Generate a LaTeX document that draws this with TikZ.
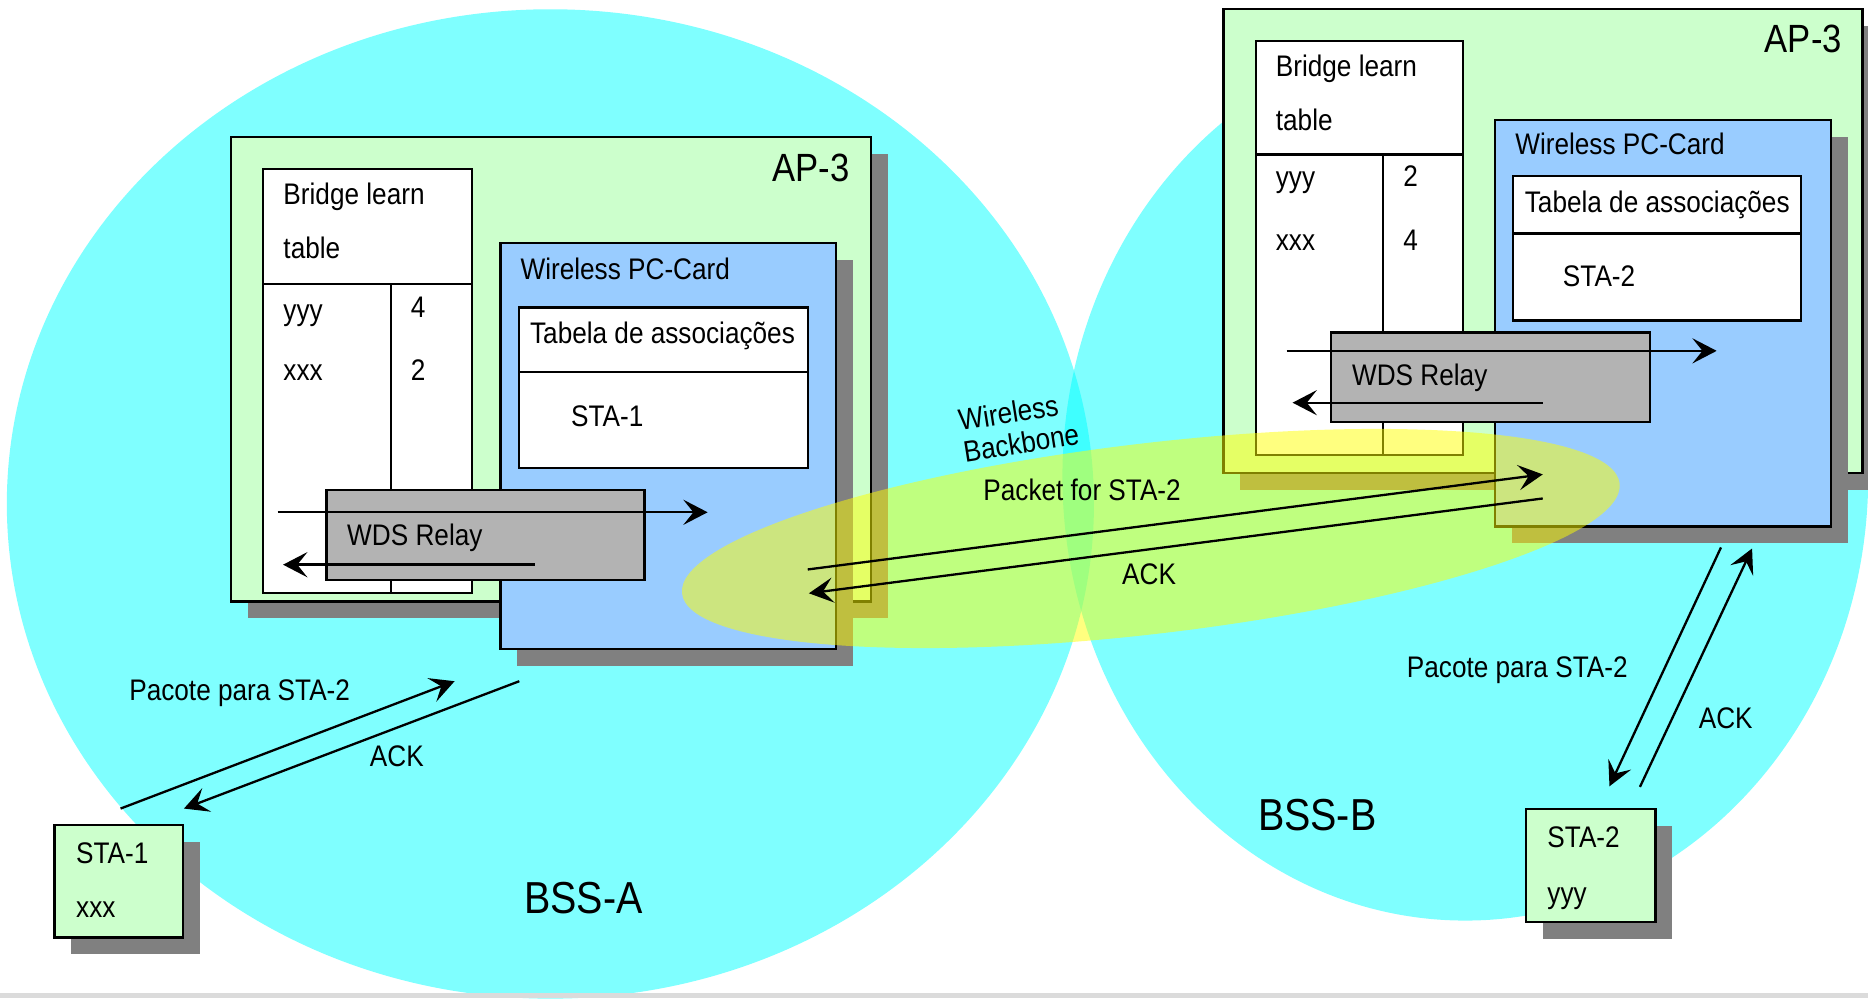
\documentclass[tikz,border=0pt]{standalone}
\usepackage{fontspec}
\setmainfont{Liberation Sans}[FakeStretch=0.88]
\usetikzlibrary{arrows.meta,fit,shadows}
\definecolor{apgreen}{HTML}{CCFFCC}
\definecolor{cardblue}{HTML}{99CCFF}
\definecolor{relaygrey}{HTML}{B3B3B3}
\definecolor{shadowgrey}{HTML}{808080}
\definecolor{cellcyan}{RGB}{0,255,255}
\definecolor{linkyellow}{RGB}{255,255,0}
\newcommand{\lbltxt}{\fontsize{7.1}{8.5}\selectfont}
\newcommand{\aptxt}{\fontsize{9.4}{11}\selectfont}
\newcommand{\bsstxt}{\fontsize{10.7}{13}\selectfont}

\begin{document}
\begin{tikzpicture}[x=0.01cm, y=-0.01cm, line width=0.55pt,
    box/.style={draw, inner sep=0pt},
    shadowbox/.style={box, drop shadow={shadow xshift=0.14cm, shadow yshift=-0.14cm, fill=shadowgrey, opacity=1}},
    lbl/.style={inner sep=0pt, anchor=base west, font=\lbltxt},
    arr/.style={-{Stealth[length=5.8pt, width=6pt, inset=2.4pt]}}]
  \useasboundingbox (0,0) rectangle (1568,838);
  \clip (0,0) rectangle (1568,838);
  \fill[white] (0,0) rectangle (1568,838);
  % the two cells
  \fill[cellcyan, fill opacity=0.5] (462,423) ellipse [x radius=4.56cm, y radius=4.15cm];
  \fill[cellcyan, fill opacity=0.5] (1230,400) ellipse [x radius=3.38cm, y radius=3.725cm];
  \fill[black!14] (0,833.5) rectangle (1568,838);

  % AP-3 of BSS-A
  \node[shadowbox, fill=apgreen, fit={(194,115) (731,505)}] (apA) {};
  \node[box, fill=white, fit={(221,142) (396,238.5)}] (tabAhead) {};
  \node[box, fill=white, fit={(221,238.5) (328,498)}] (tabAmac) {};
  \node[box, fill=white, fit={(328,238.5) (396,498)}] (tabAport) {};
  \node[shadowbox, fill=cardblue, fit={(420,204) (702,545)}] (cardA) {};
  \node[box, fill=white, fit={(435.5,258) (678,312)}] (assocAhead) {};
  \node[box, fill=white, fit={(435.5,312) (678,393)}] (assocAbody) {};
  \node[box, fill=relaygrey, fit={(274,411) (541,487)}] (wdsA) {};
  \node[inner sep=0pt, anchor=base east, font=\aptxt] (apAname) at (714,152) {AP-3};
  \node[lbl] (brA1) at (237,172) {Bridge learn};
  \node[lbl] (brA2) at (237,217) {table};
  \node[lbl] (macA1) at (237,268.6) {yyy};
  \node[lbl] (portA1) at (344,266.5) {4};
  \node[lbl] (macA2) at (237,319) {xxx};
  \node[lbl] (portA2) at (344,319) {2};
  \node[lbl] (cardAname) at (436,234.7) {Wireless PC-Card};
  \node[lbl] (assocAname) at (444,288.3) {Tabela de associações};
  \node[lbl] (assocAsta) at (478.5,357.6) {STA-1};
  \node[lbl] (wdsAname) at (290.5,458) {WDS Relay};
  \coordinate (wdsAinS) at (233,430);
  \coordinate (wdsAinE) at (594,430);
  \coordinate (wdsAoutS) at (449,474);
  \coordinate (wdsAoutE) at (237.6,474);
  \path[arr] (wdsAinS) edge (wdsAinE);
  \path[arr, line width=0.75pt] (wdsAoutS) edge (wdsAoutE);

  % AP-3 of BSS-B
  \node[shadowbox, fill=apgreen, fit={(1027,7.5) (1563.5,397)}] (apB) {};
  \node[box, fill=white, fit={(1054,34.5) (1228,129.6)}] (tabBhead) {};
  \node[box, fill=white, fit={(1054,129.6) (1161,382)}] (tabBmac) {};
  \node[box, fill=white, fit={(1161,129.6) (1228,382)}] (tabBport) {};
  \node[shadowbox, fill=cardblue, fit={(1255,100.6) (1537,442)}] (cardB) {};
  \node[box, fill=white, fit={(1270,148) (1512,196)}] (assocBhead) {};
  \node[box, fill=white, fit={(1270,196) (1512,269)}] (assocBbody) {};
  \node[box, fill=relaygrey, fit={(1117,279) (1385,354)}] (wdsB) {};
  \node[inner sep=0pt, anchor=base east, font=\aptxt] (apBname) at (1547,44.4) {AP-3};
  \node[lbl] (brB1) at (1070,64.5) {Bridge learn};
  \node[lbl] (brB2) at (1070,109.4) {table};
  \node[lbl] (macB1) at (1070,157.4) {yyy};
  \node[lbl] (portB1) at (1177,156.8) {2};
  \node[lbl] (macB2) at (1070,210) {xxx};
  \node[lbl] (portB2) at (1177,210) {4};
  \node[lbl] (cardBname) at (1271,129.8) {Wireless PC-Card};
  \node[lbl] (assocBname) at (1279,178.4) {Tabela de associações};
  \node[lbl] (assocBsta) at (1311,240.7) {STA-2};
  \node[lbl] (wdsBname) at (1134,323.8) {WDS Relay};
  \coordinate (wdsBinS) at (1080,294.5);
  \coordinate (wdsBinE) at (1441,294.5);
  \coordinate (wdsBoutS) at (1295,338);
  \coordinate (wdsBoutE) at (1085,338);
  \path[arr] (wdsBinS) edge (wdsBinE);
  \path[arr] (wdsBoutS) edge (wdsBoutE);

  % stations
  \node[shadowbox, fill=apgreen, fit={(45.7,692.7) (153.7,787)}] (staA) {};
  \node[lbl] (staAname) at (63,724.7) {STA-1};
  \node[lbl] (staAmac) at (63,770) {xxx};
  \node[shadowbox, fill=apgreen, fit={(1281,679) (1389.5,774)}] (staB) {};
  \node[lbl] (staBname) at (1298,711) {STA-2};
  \node[lbl] (staBmac) at (1298,758) {yyy};

  % wireless backbone
  \fill[linkyellow, fill opacity=0.5, rotate around={6.7:(966,452)}] (966,452) ellipse [x radius=3.96cm, y radius=0.8cm];
  \node[inner sep=0pt, anchor=north west, align=left, rotate=9, font=\fontsize{7.1}{7.6}\selectfont] (bbname) at (802.2,343) {Wireless\\Backbone};
  \node[lbl] (bbpkt) at (824.5,420.3) {Packet for STA-2};
  \node[lbl] (bback) at (941,490.3) {ACK};
  \coordinate (bbA1) at (678,478);
  \coordinate (bbB1) at (1295,398.2);
  \coordinate (bbB2) at (1295,418.4);
  \coordinate (bbA2) at (679,498);
  \path[arr] (bbA1) edge (bbB1);
  \path[arr] (bbB2) edge (bbA2);

  % BSS-A traffic
  \node[lbl] (pktA) at (107.6,587.8) {Pacote para STA-2};
  \node[lbl] (ackA) at (309.6,643.7) {ACK};
  \coordinate (staA1) at (101.2,678.7);
  \coordinate (apA1) at (381.6,571.8);
  \coordinate (apA2) at (435.9,571.8);
  \coordinate (staA2) at (154.4,678.7);
  \path[arr] (staA1) edge (apA1);
  \path[arr] (apA2) edge (staA2);
  \node[inner sep=0pt, anchor=base west, font=\bsstxt] (bssAname) at (439,767) {BSS-A};

  % BSS-B traffic
  \node[lbl] (pktB) at (1180,569) {Pacote para STA-2};
  \node[lbl] (ackB) at (1425,611.4) {ACK};
  \coordinate (apB1) at (1444.6,459.5);
  \coordinate (staB1) at (1351,660);
  \coordinate (staB2) at (1376.6,660.5);
  \coordinate (apB2) at (1470.7,460.4);
  \path[arr] (apB1) edge (staB1);
  \path[arr] (staB2) edge (apB2);
  \node[inner sep=0pt, anchor=base west, font=\bsstxt] (bssBname) at (1055,697) {BSS-B};
\end{tikzpicture}
\end{document}
